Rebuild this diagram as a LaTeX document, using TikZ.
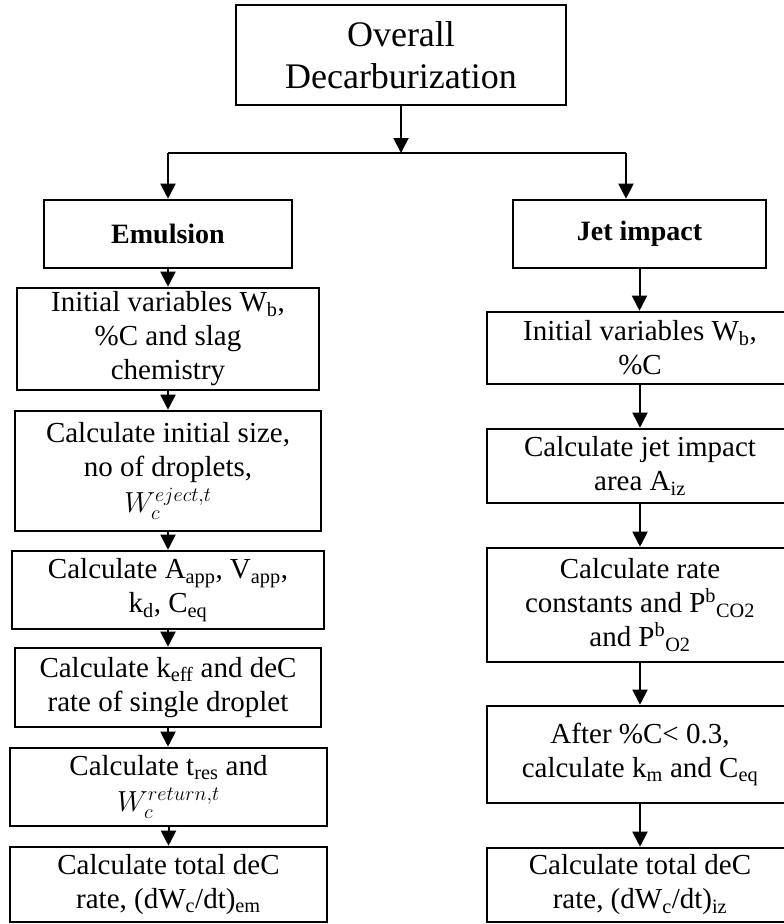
\documentclass[tikz,border=0pt]{standalone}
\usepackage{fix-cm}
\usepackage{fontspec}
\setmainfont{Liberation Serif}
\usetikzlibrary{arrows.meta,positioning}

\begin{document}
\begin{tikzpicture}[x=1pt, y=-1pt,
    box/.style={draw, line width=2.6pt, align=center, inner sep=0pt,
        font=\fontsize{29}{34}\selectfont},
    flow/.style={line width=2pt, -{Triangle[length=15pt,width=15pt]}}]
    \useasboundingbox (0,0) rectangle (784,924);
    % Top level
    \node[box, minimum width=330pt, minimum height=100pt,
        font=\fontsize{36}{42}\selectfont] (overall) at (401,55) {Overall\\Decarburization};
    \coordinate (fork) at (401,153);
    \coordinate (forkL) at (168,153);
    \coordinate (forkR) at (626,153);
    % Two branches
    \node[box, minimum width=248pt, minimum height=68pt, font=\fontsize{28}{34}\selectfont\bfseries] (emul) at (168,234) {Emulsion};
    \node[box, minimum width=253pt, minimum height=68pt, font=\fontsize{28}{34}\selectfont\bfseries] (jet) at (639.5,234) {Jet impact};
    \draw[flow] (overall.south) -- (fork);
    \draw[line width=2pt] (forkL) -- (forkR);
    \draw[flow] (forkL) -- (forkL |- emul.north);
    \draw[flow] (forkR) -- (forkR |- jet.north);
    % Emulsion steps
    \node[box, minimum width=302pt, minimum height=102pt] (L1) at (168,339)
        {Initial variables W\textsubscript{b},\\\%C and slag\\chemistry};
    \node[box, minimum width=306pt, minimum height=120pt] (L2) at (168,471)
        {Calculate initial size,\\no of droplets,\\[2pt]$W_c^{eject,t}$};
    \node[box, minimum width=312pt, minimum height=78pt] (L3) at (168,590)
        {Calculate A\textsubscript{app}, V\textsubscript{app},\\k\textsubscript{d}, C\textsubscript{eq}};
    \node[box, minimum width=306pt, minimum height=79pt] (L4) at (168,687.5)
        {Calculate k\textsubscript{eff} and deC\\rate of single droplet};
    \node[box, minimum width=317pt, minimum height=78pt] (L5) at (168.5,787)
        {Calculate t\textsubscript{res} and\\[2pt]$W_c^{return,t}$};
    \node[box, minimum width=317pt, minimum height=75pt] (L6) at (168.5,884.5)
        {Calculate total deC\\rate, (dW\textsubscript{c}/dt)\textsubscript{em}};
    % Jet impact steps
    \node[box, minimum width=306pt, minimum height=72pt] (R1) at (640,348)
        {Initial variables W\textsubscript{b},\\\%C};
    \node[box, minimum width=306pt, minimum height=74pt] (R2) at (640,466)
        {Calculate jet impact\\area A\textsubscript{iz}};
    \node[box, minimum width=306pt, minimum height=114pt] (R3) at (640,605)
        {Calculate rate\\constants and P\textsuperscript{b}\textsubscript{CO2}\\and P\textsuperscript{b}\textsubscript{O2}};
    \node[box, minimum width=306pt, minimum height=97pt] (R4) at (640,754.5)
        {After \%C< 0.3,\\calculate k\textsubscript{m} and C\textsubscript{eq}};
    \node[box, minimum width=306pt, minimum height=74pt] (R5) at (640,885)
        {Calculate total deC\\rate, (dW\textsubscript{c}/dt)\textsubscript{iz}};
    % Connectors
    \foreach \a/\b in {emul/L1, L1/L2, L2/L3, L3/L4, L4/L5, L5/L6, jet/R1, R1/R2, R2/R3, R3/R4, R4/R5}
        \draw[flow] (\a.south) -- (\a.south |- \b.north);
\end{tikzpicture}
\end{document}
